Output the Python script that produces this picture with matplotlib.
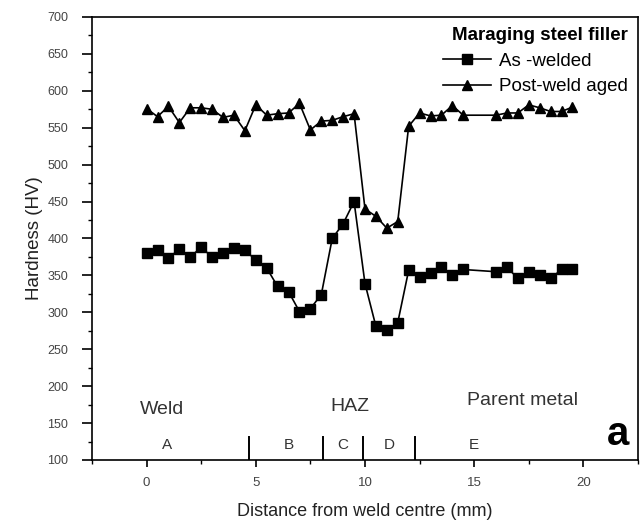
import matplotlib
matplotlib.use("Agg")
import matplotlib.pyplot as plt
from matplotlib.ticker import MultipleLocator

plt.rcParams['font.family'] = ['Liberation Sans', 'DejaVu Sans']

# distance from weld centre (mm)
dist = [0, 0.5, 1, 1.5, 2, 2.5, 3, 3.5, 4, 4.5, 5, 5.5, 6, 6.5, 7, 7.5,
        8, 8.5, 9, 9.5, 10, 10.5, 11, 11.5, 12, 12.5, 13, 13.5, 14, 14.5,
        16, 16.5, 17, 17.5, 18, 18.5, 19, 19.5]

as_welded = [380, 385, 373, 386, 375, 388, 375, 380, 387, 384, 371, 360,
             335, 328, 301, 305, 324, 400, 420, 450, 339, 281, 276, 286,
             357, 348, 353, 361, 351, 358,
             355, 361, 346, 354, 351, 346, 358, 358]

post_weld_aged = [576, 565, 579, 557, 577, 577, 575, 564, 567, 546, 581, 567,
                  569, 570, 583, 547, 559, 560, 565, 569, 440, 430, 414, 423,
                  552, 570, 566, 567, 580, 567,
                  567, 570, 570, 581, 577, 572, 572, 578]

# zone boundaries and labels
zone_edges = [4.7, 8.1, 9.9, 12.3]
zone_names = ['A', 'B', 'C', 'D', 'E']
zone_pos = [0.95, 6.5, 9.0, 11.1, 15.0]

fig = plt.figure(figsize=(6.41, 5.26), dpi=100)
ax = fig.add_axes([0.1435, 0.1255, 0.8518, 0.8422])

ax.plot(dist, as_welded, 'k-', marker='s', markersize=6.5, linewidth=1.2,
        label='As -welded')
ax.plot(dist, post_weld_aged, 'k-', marker='^', markersize=7.5, linewidth=1.2,
        label='Post-weld aged')

for xe in zone_edges:
    ax.plot([xe, xe], [100, 131], 'k-', linewidth=1.4)
for name, xp in zip(zone_names, zone_pos):
    ax.text(xp, 120, name, ha='center', va='center', fontsize=11, color='#333333')

ax.text(-0.3, 168, 'Weld', ha='left', va='center', fontsize=14, color='#333333')
ax.text(9.3, 172, 'HAZ', ha='center', va='center', fontsize=14, color='#333333')
ax.text(17.2, 181, 'Parent metal', ha='center', va='center', fontsize=14,
        color='#333333')
ax.text(22.1, 135, 'a', ha='right', va='center', fontsize=29, fontweight='bold')

ax.set_xlim(-2.5, 22.5)
ax.set_ylim(100, 700)
ax.xaxis.set_major_locator(MultipleLocator(5))
ax.xaxis.set_minor_locator(MultipleLocator(2.5))
ax.yaxis.set_major_locator(MultipleLocator(50))
ax.yaxis.set_minor_locator(MultipleLocator(25))
ax.tick_params(which='major', direction='out', width=1.2, labelcolor='#444444')
ax.tick_params(axis='x', which='major', length=5, pad=7, labelsize=9.5)
ax.tick_params(axis='y', which='major', length=7, pad=10, labelsize=9)
ax.tick_params(which='minor', direction='out', length=3, width=1)
for s in ax.spines.values():
    s.set_linewidth(1.2)

ax.set_xlabel('Distance from weld centre (mm)', fontsize=13, color='#222222',
              labelpad=10)
ax.set_ylabel('Hardness (HV)', fontsize=13.5, color='#222222', labelpad=3)

leg = ax.legend(loc='upper right', frameon=False, fontsize=13.5,
                title='Maraging steel filler', handlelength=2.6,
                borderaxespad=0.15, labelspacing=0.45, handletextpad=0.4)
leg.get_title().set_fontweight('bold')
leg.get_title().set_fontsize(13.5)
leg._legend_box.align = 'right'

fig.savefig('out.png', dpi=100)
